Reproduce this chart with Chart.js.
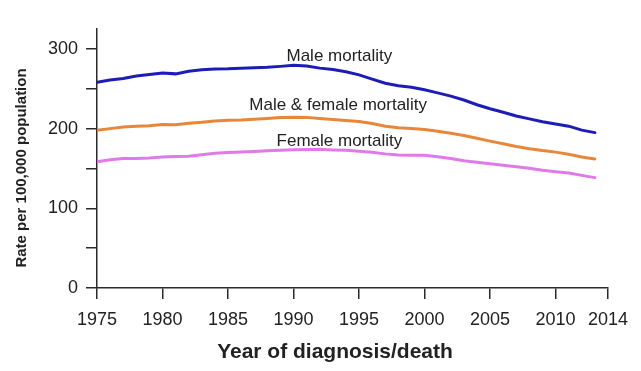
<!DOCTYPE html>
<html>
<head>
<meta charset="utf-8">
<script src="https://cdn.jsdelivr.net/npm/chart.js@4/dist/chart.umd.min.js"></script>
<style>
  body { margin: 0; background: #fff; }
  canvas { display: block; }
</style>
</head>
<body>
<canvas id="myChart" width="641" height="371"></canvas>
<script>
// data, 1975-2013
const years = []
for (let y = 1975; y <= 2013; y++) years.push(y)

const maleMortality = [258, 261, 263, 265.9, 267.9, 269.8, 268.7, 272, 273.8, 274.8,
    275, 275.8, 276.4, 276.9, 278.1, 279.6, 278.5, 275.9, 274.3, 271.3,
    267.4, 262.1, 256.9, 253.8, 251.8, 248.7, 244.8, 240.8, 235.9, 230,
    225, 220.6, 215.8, 212.2, 208.7, 205.8, 203.1, 198.1, 195]
const bothMortality = [198, 200, 201.9, 203, 203.5, 205.3, 205, 206.8, 207.9, 209.7,
    210.4, 210.9, 211.8, 212.8, 213.8, 214.4, 214.1, 212.6, 211.3, 210.3,
    209, 206.3, 203.1, 201.1, 200.2, 198.9, 196.6, 194.1, 191.4, 187.8,
    184.3, 181.1, 177.6, 174.7, 172.4, 170.5, 167.8, 164.5, 162]
const femaleMortality = [158.5, 161, 162.5, 162.5, 163, 164.4, 164.9, 165.4, 167.2, 169.2,
    169.9, 170.8, 171.4, 172.3, 172.9, 173.4, 173.9, 174, 173.3, 172.7,
    171.5, 170.3, 168.3, 166.8, 166.6, 166.6, 164.6, 162.4, 159.7, 157.8,
    156, 154.1, 152.1, 150.2, 147.7, 145.8, 144.2, 141.3, 138.5]

const xTicks = [1975, 1980, 1985, 1990, 1995, 2000, 2005, 2010, 2014]
const yTicks = [0, 50, 100, 150, 200, 250, 300]
const yLabelled = [0, 100, 200, 300]

const lineLabels = ['Male mortality', 'Male & female mortality', 'Female mortality']
const lineLabelYears = [1993.5, 1993.4, 1993.5]
const lineLabelValues = [291, 228.7, 184.6]

const axisColor = '#2a2a2a'
const textColor = '#222'

function toPoints(values) {
    return values.map((v, i) => ({ x: years[i], y: v }))
}

// draws the three line captions and both axis titles
const annotations = {
    id: 'annotations',
    afterDraw(chart) {
        const ctx = chart.ctx
        const xs = chart.scales.x
        const ys = chart.scales.y
        ctx.save()
        ctx.fillStyle = textColor
        ctx.textAlign = 'center'
        ctx.textBaseline = 'middle'
        ctx.font = '17px "Liberation Sans", Arial, sans-serif'
        lineLabels.forEach((t, i) => {
            ctx.fillText(t, xs.getPixelForValue(lineLabelYears[i]), ys.getPixelForValue(lineLabelValues[i]))
        })

        ctx.font = 'bold 21px "Liberation Sans", Arial, sans-serif'
        ctx.fillText('Year of diagnosis/death', 335, 352)

        ctx.translate(22, 168)
        ctx.rotate(-Math.PI / 2)
        ctx.font = 'bold 15px "Liberation Sans", Arial, sans-serif'
        ctx.fillText('Rate per 100,000 population', 0, 0)
        ctx.restore()
    }
}

new Chart(document.getElementById('myChart'), {
    type: 'line',
    data: {
        datasets: [
            { data: toPoints(maleMortality), borderColor: '#1c1cb6' },
            { data: toPoints(bothMortality), borderColor: '#e8873a' },
            { data: toPoints(femaleMortality), borderColor: '#e07ae8' }
        ]
    },
    options: {
        responsive: false,
        animation: false,
        layout: { padding: { left: 0, right: 33, top: 29, bottom: 0 } },
        elements: {
            line: { borderWidth: 3, tension: 0, borderCapStyle: 'round' },
            point: { radius: 0 }
        },
        plugins: {
            legend: { display: false },
            tooltip: { enabled: false }
        },
        scales: {
            x: {
                type: 'linear',
                min: 1975,
                max: 2014,
                afterBuildTicks: (scale) => { scale.ticks = xTicks.map(v => ({ value: v })) },
                afterFit: (scale) => { scale.height = 83 },
                grid: { drawOnChartArea: false, tickLength: 11, color: axisColor, lineWidth: 1.5 },
                border: { display: true, color: axisColor, width: 1.5 },
                ticks: {
                    color: textColor,
                    padding: 10,
                    maxRotation: 0,
                    font: { size: 18, family: '"Liberation Sans", Arial, sans-serif' },
                    callback: (v) => String(v)
                }
            },
            y: {
                min: 0,
                max: 325,
                afterBuildTicks: (scale) => { scale.ticks = yTicks.map(v => ({ value: v })) },
                afterFit: (scale) => { scale.width = 97 },
                grid: { drawOnChartArea: false, tickLength: 11, color: axisColor, lineWidth: 1.5 },
                border: { display: true, color: axisColor, width: 1.5 },
                ticks: {
                    color: textColor,
                    padding: 8,
                    font: { size: 18, family: '"Liberation Sans", Arial, sans-serif' },
                    callback: (v) => yLabelled.includes(v) ? String(v) : ''
                }
            }
        }
    },
    plugins: [annotations]
})
</script>
</body>
</html>
